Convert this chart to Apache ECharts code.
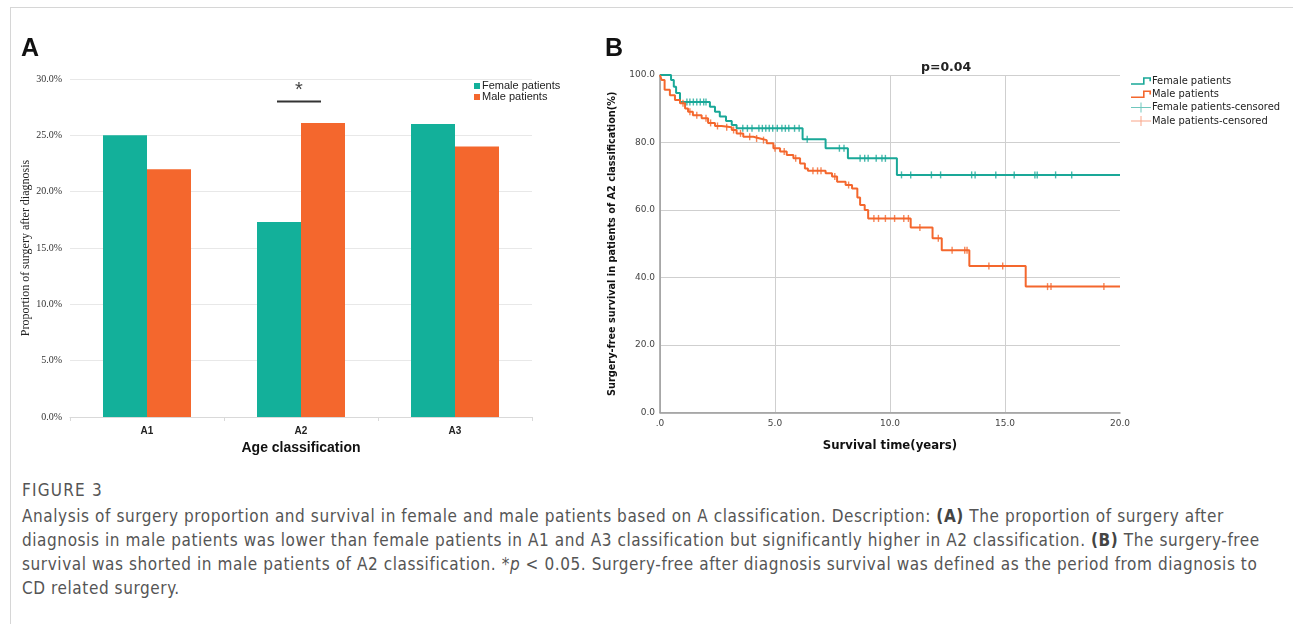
<!DOCTYPE html>
<html>
<head>
<meta charset="utf-8">
<script src="https://cdn.jsdelivr.net/npm/echarts@6/dist/echarts.min.js"></script>
<style>
  body { margin: 0; background: #fff; width: 1293px; height: 624px; overflow: hidden; position: relative; }
  #frame { position: absolute; left: 10px; top: 7px; width: 1290px; height: 630px; border-top: 1px solid #d6d6d6; border-left: 1px solid #d6d6d6; }
  #chartA { position: absolute; left: 0; top: 0; width: 590px; height: 470px; }
  #chartB { position: absolute; left: 590px; top: 0; width: 703px; height: 470px; }
  #caption { position: absolute; left: 22px; top: 478px; font-family: "DejaVu Sans Condensed", "Noto Sans", sans-serif; color: #555; font-size: 17px; letter-spacing: 0.58px; line-height: 24px; white-space: nowrap; }
  #caption .fig { font-size: 17px; letter-spacing: 1.2px; margin-bottom: 2px; }
  #caption b { color: #444; }
</style>
</head>
<body>
<div id="frame"></div>
<div id="chartA"></div>
<div id="chartB"></div>
<div id="caption">
  <div class="fig">FIGURE 3</div>
  <div>Analysis of surgery proportion and survival in female and male patients based on A classification. Description: <b>(A)</b> The proportion of surgery after</div>
  <div>diagnosis in male patients was lower than female patients in A1 and A3 classification but significantly higher in A2 classification. <b>(B)</b> The surgery-free</div>
  <div>survival was shorted in male patients of A2 classification. *<i>p</i> &lt; 0.05. Surgery-free after diagnosis survival was defined as the period from diagnosis to</div>
  <div>CD related surgery.</div>
</div>
<script>
// ---- 数据：A 图（各年龄分型手术比例 %）
const ageCats = ["A1", "A2", "A3"];
const femaleProp = [25.0, 17.3, 26.0];
const maleProp = [22.0, 26.1, 24.0];

// ---- 数据：B 图（A2 分型无手术生存，KM 曲线拐点 [年, %]）
const femaleSteps = [
  [0, 100], [0.48, 98.5], [0.6, 96.5], [0.7, 94.7], [0.87, 92.0], [2.17, 90.6],
  [2.39, 89.1], [2.6, 87.7], [2.87, 86.4], [3.12, 85.2], [3.33, 84.2], [6.2, 81.0],
  [7.2, 78.3], [8.17, 75.3], [10.3, 70.4], [20, 70.4]
];
const maleSteps = [
  [0, 100], [0.07, 98.5], [0.2, 95.6], [0.43, 94.0], [0.65, 92.6], [0.87, 91.6],
  [1.09, 90.1], [1.22, 89.1], [1.43, 88.1], [1.81, 87.2], [2.09, 85.8], [2.39, 84.9],
  [2.68, 84.5], [3.12, 83.7], [3.33, 82.7], [3.62, 81.7], [4.06, 81.2], [4.35, 80.7],
  [4.64, 79.8], [4.93, 78.3], [5.22, 77.3], [5.51, 76.3], [5.8, 75.3], [6.09, 73.8],
  [6.3, 72.3], [6.43, 71.6], [7.2, 70.9], [7.48, 69.9], [7.7, 68.4], [8.07, 67.4],
  [8.35, 66.4], [8.58, 63.7], [8.7, 61.5], [8.9, 60.0], [9.05, 57.5], [10.9, 54.8],
  [11.85, 51.6], [12.25, 48.1], [13.45, 43.4], [15.9, 37.3], [20, 37.3]
];
// 删失时间点（年）
const femaleCensor = [
  1.17, 1.3, 1.45, 1.6, 1.75, 1.9, 2.0,
  3.6, 3.8, 4.0, 4.3, 4.45, 4.6, 4.75, 4.9, 5.1, 5.3, 5.45, 5.6, 5.85, 6.05,
  6.4, 7.8, 8.0, 8.7, 8.9, 9.05, 9.4, 9.65, 9.8,
  10.5, 10.9, 11.8, 12.2, 13.55, 13.7, 14.6, 15.4, 16.3, 16.4, 17.2, 17.9
];
const maleCensor = [
  1.0, 1.3, 1.6, 2.0, 2.2, 2.5, 2.9, 3.2, 3.5, 3.9, 4.2, 4.5, 5.0, 5.4, 5.9,
  6.65, 6.85, 7.0, 7.6, 8.2,
  9.3, 9.5, 9.8, 10.2, 10.6, 10.8, 11.3, 12.1, 12.7, 13.25, 13.35,
  14.3, 14.9, 16.85, 17.0, 19.3
];

const TEAL_A = "#13b09a", ORANGE = "#f4672d";
const TEAL_B = "#1aa898";

// 删失点落在阶梯曲线上
function survAt(steps, t) {
  let s = steps[0][1];
  steps.forEach(p => { if (p[0] <= t) s = p[1]; });
  return s;
}

// ============ A 图
const chartA = echarts.init(document.getElementById("chartA"), null, { renderer: "canvas" });
chartA.setOption({
  animation: false,
  title: { text: "A", left: 21, top: 37, padding: 0, textStyle: { fontSize: 25, fontWeight: "bold", color: "#111", fontFamily: "Liberation Sans" } },
  legend: {
    left: 469, top: 75.5, orient: "vertical", itemWidth: 6, itemHeight: 6, itemGap: 0, icon: "rect",
    textStyle: { fontSize: 11, lineHeight: 11, color: "#222", fontFamily: "Liberation Sans", padding: [0, 0, 0, -3] },
    data: ["Female patients", "Male patients"]
  },
  grid: { left: 70, top: 79, width: 462, height: 338 },
  xAxis: {
    type: "category", data: ageCats,
    axisLine: { lineStyle: { color: "#d9d9d9" } },
    axisTick: { show: true, length: 4, lineStyle: { color: "#d9d9d9" } },
    axisLabel: { fontSize: 10, fontWeight: "bold", color: "#222", fontFamily: "Liberation Sans", margin: 9 },
    name: "Age classification", nameLocation: "middle", nameGap: 24,
    nameTextStyle: { fontSize: 14, fontWeight: "bold", color: "#111", fontFamily: "Liberation Sans" }
  },
  yAxis: {
    type: "value", min: 0, max: 30, interval: 5,
    axisLine: { show: false }, axisTick: { show: false },
    splitLine: { lineStyle: { color: "#e8e8e8" } },
    axisLabel: { fontSize: 10, color: "#333", fontFamily: "Liberation Serif", margin: 8, formatter: v => v.toFixed(1) + "%" },
    name: "Proportion of surgery after diagnosis", nameLocation: "middle", nameGap: 38, nameMoveOverlap: false,
    nameTextStyle: { fontSize: 12, color: "#222", fontFamily: "Liberation Serif" }
  },
  series: [
    { name: "Female patients", type: "bar", data: femaleProp, barWidth: 44, barGap: "0%", itemStyle: { color: TEAL_A } },
    { name: "Male patients", type: "bar", data: maleProp, barWidth: 44, barGap: "0%", itemStyle: { color: ORANGE } }
  ]
});
// A2 显著性标记
const sig = chartA.convertToPixel({ xAxisIndex: 0, yAxisIndex: 0 }, ["A2", 28]);
chartA.setOption({
  graphic: [
    { type: "line", shape: { x1: sig[0] - 24, y1: sig[1], x2: sig[0] + 20, y2: sig[1] }, style: { stroke: "#333", lineWidth: 2 } },
    { type: "text", x: sig[0] - 2, y: sig[1] - 1, style: { text: "*", fontSize: 20, fill: "#444", fontFamily: "Liberation Sans", align: "center", verticalAlign: "bottom" } }
  ]
});

// ============ B 图
const stepIcon = "path://M0,7 L12,7 L12,1 L20,1 L20,5 L18.4,5 L18.4,2.6 L13.6,2.6 L13.6,8.6 L0,8.6 Z";
const plusIcon = "path://M0,4.5 L20,4.5 L20,5.5 L0,5.5 Z M9.5,0 L10.5,0 L10.5,10 L9.5,10 Z";
const chartB = echarts.init(document.getElementById("chartB"), null, { renderer: "canvas" });
chartB.setOption({
  animation: false,
  title: [
    { text: "B", left: 15, top: 37, padding: 0, textStyle: { fontSize: 25, fontWeight: "bold", color: "#111", fontFamily: "Liberation Sans" } },
    { text: "p=0.04", left: 331, top: 61, padding: 0, textStyle: { fontSize: 12.5, fontWeight: "bold", color: "#222", fontFamily: "DejaVu Sans" } }
  ],
  legend: {
    left: 536, top: 70.5, orient: "vertical", itemWidth: 20, itemHeight: 10, itemGap: 2.3,
    textStyle: { fontSize: 11, lineHeight: 11, color: "#222", fontFamily: "DejaVu Sans Condensed", padding: [0, 0, 0, -4] },
    data: [
      { name: "Female patients", icon: stepIcon, itemStyle: { color: TEAL_B } },
      { name: "Male patients", icon: stepIcon, itemStyle: { color: ORANGE } },
      { name: "Female patients-censored", icon: plusIcon, itemStyle: { color: "#4cb9ad" } },
      { name: "Male patients-censored", icon: plusIcon, itemStyle: { color: "#f7906b" } }
    ]
  },
  grid: { left: 70, top: 75, width: 460, height: 337.5 },
  xAxis: {
    type: "value", min: 0, max: 20, interval: 5,
    axisLine: { lineStyle: { color: "#9a9a9a", width: 1.5 } }, axisTick: { show: false },
    splitLine: { show: true, showMaxLine: false, lineStyle: { color: "#cfcfcf" } },
    axisLabel: { fontSize: 9, color: "#444", fontFamily: "DejaVu Sans", margin: 7, formatter: v => (v === 0 ? ".0" : v.toFixed(1)) },
    name: "Survival time(years)", nameLocation: "middle", nameGap: 27,
    nameTextStyle: { fontSize: 13, fontWeight: "bold", color: "#111", fontFamily: "DejaVu Sans Condensed" }
  },
  yAxis: {
    type: "value", min: 0, max: 100, interval: 20,
    axisLine: { show: true, lineStyle: { color: "#9a9a9a", width: 1.5 } }, axisTick: { show: false },
    splitLine: { lineStyle: { color: "#cfcfcf" } },
    axisLabel: { fontSize: 9, color: "#444", fontFamily: "DejaVu Sans", margin: 5, formatter: v => v.toFixed(1) },
    name: "Surgery-free survival in patients of A2 classification(%)", nameLocation: "middle", nameGap: 42,
    nameTextStyle: { fontSize: 10.8, fontWeight: "bold", color: "#111", fontFamily: "DejaVu Sans Condensed" }
  },
  series: [
    { name: "Female patients", type: "line", step: "end", data: femaleSteps, showSymbol: false, lineStyle: { color: TEAL_B, width: 2 }, itemStyle: { color: TEAL_B }, z: 3 },
    { name: "Male patients", type: "line", step: "end", data: maleSteps, showSymbol: false, lineStyle: { color: ORANGE, width: 2 }, itemStyle: { color: ORANGE }, z: 3 },
    { name: "Female patients-censored", type: "scatter", symbol: "rect", symbolSize: [1.4, 7],
      data: femaleCensor.map(t => [t, survAt(femaleSteps, t)]), itemStyle: { color: TEAL_B }, z: 4 },
    { name: "Male patients-censored", type: "scatter", symbol: "rect", symbolSize: [1.4, 7],
      data: maleCensor.map(t => [t, survAt(maleSteps, t)]), itemStyle: { color: ORANGE }, z: 4 }
  ]
});
</script>
</body>
</html>
